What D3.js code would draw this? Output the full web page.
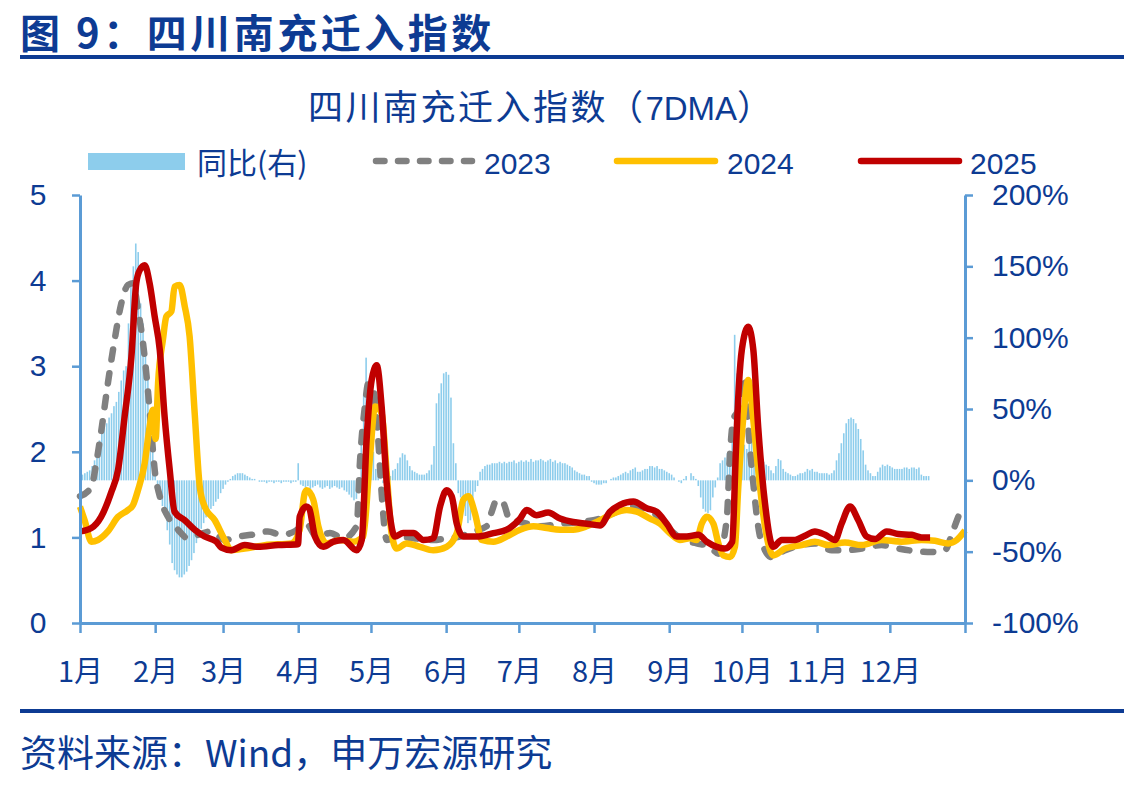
<!DOCTYPE html>
<html><head><meta charset="utf-8">
<script src="https://cdn.jsdelivr.net/npm/d3@7"></script>
<style>
html,body{margin:0;padding:0;background:#fff;}
svg{display:block;}
</style></head>
<body>
<svg id="c" width="1124" height="787"></svg>
<script>
// ---- data (day of year, value) ----
const monthLabels = ["1月","2月","3月","4月","5月","6月","7月","8月","9月","10月","11月","12月"];
const monthStarts = [0,31,59,90,120,151,181,212,243,273,304,334,365];
const leftTicks = [0,1,2,3,4,5];
const rightTicks = [-100,-50,0,50,100,150,200];
const seriesNames = ["同比(右)","2023","2024","2025"];

const s2023 = [[0,1.48],[4.7,1.59],[6.7,1.87],[8.8,2.25],[11.5,2.80],[14.3,3.31],[17,3.73],[19.8,3.95],[21.9,3.97],[23.9,3.66],[26,3.27],[28,2.72],[29.4,2.25],[30.8,1.79],[32.9,1.48],[36.3,1.24],[40.4,1.09],[44.5,0.99],[48.7,1.03],[54.2,1.07],[59.7,0.97],[65.2,1.01],[70.7,1.03],[77.5,1.07],[83,1.03],[88.5,1.07],[93.3,1.16],[97.6,1.01],[103.1,1.05],[108.6,0.99],[114.1,1.13],[115.5,1.90],[117.5,2.53],[118.9,2.80],[121,2.72],[123,2.14],[124.4,1.52],[126.5,0.97],[130.6,1.01],[137.5,0.99],[145.7,0.97],[151.2,0.99],[156.7,1.01],[162.2,1.07],[167.7,1.13],[169.8,1.30],[171.9,1.44],[174.6,1.40],[177.3,1.20],[181.5,1.18],[189.7,1.13],[198,1.16],[206.2,1.18],[214.5,1.22],[221.3,1.30],[226.8,1.37],[232.3,1.34],[237.8,1.26],[243.3,1.09],[248.8,0.97],[254.3,0.93],[259.8,0.89],[263.3,0.81],[266.7,1.20],[268.1,1.98],[269.4,2.37],[271.5,2.49],[274.3,2.88],[275.6,2.29],[277.7,1.63],[279.7,1.13],[282.5,0.85],[285.3,0.77],[290.8,0.85],[297.6,0.91],[303.1,0.93],[310,0.85],[315.5,0.85],[322.4,0.87],[330.6,0.91],[337.5,0.87],[344.4,0.84],[351.3,0.83],[356.7,0.85],[360.2,1.09],[363.6,1.32],[365,1.36]];

const s2024 = [[0,1.36],[1.9,1.20],[4.7,0.95],[7.4,0.97],[11.5,1.07],[15.7,1.24],[19.8,1.32],[21.9,1.38],[23.9,1.55],[26.7,1.87],[28.7,2.29],[30.1,2.49],[31.2,2.15],[32.2,2.80],[34.2,3.31],[35.6,3.58],[37.7,3.64],[39,3.93],[41.1,3.95],[43.2,3.70],[45.2,3.35],[47.3,2.45],[49.4,1.59],[51.4,1.36],[55.6,1.20],[59.7,0.97],[62.4,0.85],[67.9,0.87],[76.2,0.91],[87.2,0.93],[90.6,1.09],[92.7,1.52],[93.5,1.55],[96.2,1.44],[98.3,1.13],[101.7,0.93],[107.2,0.97],[112.7,0.95],[116.8,1.01],[119.6,1.94],[121.7,2.53],[124.4,2.45],[126.5,1.75],[128.5,1.05],[130.6,0.87],[134.7,0.93],[140.2,0.89],[145.7,0.85],[151.2,0.89],[155.4,1.05],[158.1,1.44],[160.2,1.48],[162.9,1.28],[165.7,0.97],[170.5,0.95],[176,1.01],[181.5,1.09],[187,1.13],[192.5,1.11],[198,1.09],[203.4,1.09],[209,1.13],[214.5,1.20],[220,1.28],[225.5,1.32],[229.6,1.30],[235.1,1.22],[239.2,1.16],[243.3,1.05],[247.4,0.97],[251.6,0.99],[254.3,0.97],[256.4,1.16],[258.5,1.24],[261.2,1.16],[263.3,0.93],[265.3,0.79],[268.1,0.77],[270.1,0.89],[271.5,1.59],[273.6,2.41],[275.6,2.84],[277.7,2.37],[279.7,1.79],[282.5,1.13],[285.9,0.79],[290.8,0.87],[297.6,0.91],[303.1,0.95],[308.6,0.91],[315.5,0.94],[322.4,0.91],[330.6,0.97],[338.9,0.95],[347.1,0.97],[352.6,0.96],[358.1,0.93],[361.6,0.97],[365,1.08]];

const s2025 = [[0,1.07],[4.7,1.11],[8.7,1.24],[12.8,1.52],[15.7,1.79],[18.4,2.41],[21.2,3.11],[23.2,3.97],[24.6,4.12],[26.7,4.18],[28.7,3.97],[30.8,3.58],[32.9,3.19],[34.9,2.41],[37,1.79],[39,1.30],[43.2,1.20],[47.3,1.09],[51.4,1.01],[56.2,0.95],[58.3,0.88],[62.4,0.85],[67.9,0.91],[73.4,0.89],[81.7,0.91],[89.9,0.92],[90.6,1.24],[93.3,1.36],[94.5,1.34],[96.9,1.01],[100.3,0.89],[104.5,0.95],[108.6,0.97],[114.1,0.85],[116.2,0.97],[118.2,2.14],[120.3,2.84],[122.4,3.01],[124.4,2.53],[126.5,1.63],[129.9,1.01],[133.3,1.05],[137.5,1.05],[141.6,0.97],[145.7,0.99],[148.5,1.36],[151.2,1.55],[153.3,1.48],[155.4,1.16],[158.1,1.01],[163.6,1.01],[170.5,1.05],[176,1.09],[181.5,1.22],[184.2,1.32],[188.3,1.26],[193.1,1.29],[198,1.22],[203.4,1.18],[209,1.16],[214.5,1.14],[218.6,1.30],[222.7,1.38],[228.2,1.42],[233.7,1.34],[237.8,1.30],[242,1.16],[246.1,1.01],[250.2,1.01],[255,1.03],[258.5,0.95],[262.6,0.89],[266,0.87],[269,0.95],[270.5,2.0],[271.8,2.8],[273,3.2],[275.6,3.46],[277.7,3.19],[279.7,2.29],[282.5,1.40],[285.9,0.89],[289.4,0.97],[294.9,0.97],[299,1.02],[303.1,1.07],[307.3,1.03],[311.4,0.97],[314.1,1.16],[317.6,1.36],[321,1.20],[324.4,1.01],[327.9,0.98],[332.7,1.07],[337.5,1.04],[343,1.03],[347.1,1.00],[350.6,1.00]];

// 同比 (%), one value per day starting Jan 1
const yoy = [
2,4,5,6,7,10,14,23,28,33,
37,40,44,47,52,55,62,70,77,80,
110,140,150,166,160,124,110,90,72,47,
23,8,-5,-12,-18,-23,-35,-45,-58,-63,
-66,-68,-68,-66,-64,-60,-56,-51,-44,-38,
-34,-30,-26,-23,-20,-18,-15,-13,-9,-6,
-3,-1,1,3,4,5,5,5,4,3,
2,1,1,0,-1,-1,-1,-2,-1,-1,
-2,-1,-1,-2,-1,-1,-1,-2,-1,-1,
12,-3,-4,-5,-4,-6,-5,-4,-3,-5,
-6,-5,-4,-6,-5,-4,-5,-6,-5,-7,
-8,-10,-12,-14,-13,-8,30,60,86,70,
40,20,8,3,0,-2,-2,0,3,7,
8,12,16,19,18,14,10,7,6,5,
4,4,4,5,7,11,24,54,61,68,
75,76,74,58,26,12,-9,-12,-19,-25,
-30,-28,-14,-8,-4,6,8,10,11,11,
12,12,12,13,12,13,12,13,13,14,
12,13,14,13,14,13,15,13,14,14,
15,14,13,14,15,13,14,12,13,12,
12,11,10,9,7,6,5,4,4,3,
3,-1,-2,-3,-3,-3,-2,-2,0,1,
2,2,3,4,5,6,5,7,8,9,
6,6,7,8,8,10,10,9,10,8,
8,7,6,5,4,2,0,-1,-2,1,
3,0,5,3,1,-4,-12,-20,-22,-23,
-21,-12,-5,2,12,14,16,19,20,35,
102,75,45,30,25,22,28,30,21,17,
14,12,13,11,10,7,5,10,15,14,
8,6,5,4,3,3,4,5,5,6,
8,7,8,6,6,5,5,5,5,4,
5,7,14,19,26,33,40,43,44,43,
40,36,29,21,11,7,5,3,3,6,
9,11,10,11,10,9,8,8,8,8,
9,9,8,9,9,8,9,4,3,3,
3];

// ---- drawing ----
const TXT = "#0D3B93", AX = "#5B9BD5";
const FONT = "'Liberation Sans', Arial, 'Noto Sans CJK SC', sans-serif";
const CJK = "'Noto Sans CJK SC', 'Liberation Sans', sans-serif";
const svg = d3.select("#c");

const x = d3.scaleLinear().domain([0,365]).range([80,965]);
const yL = d3.scaleLinear().domain([0,5]).range([623,195]);
const yR = d3.scaleLinear().domain([-100,200]).range([623,195]);

// header
svg.append("text").attr("x",20).attr("y",48).attr("font-family",CJK).attr("font-weight","bold")
  .attr("font-size",40).attr("letter-spacing",3.5).attr("fill",TXT).text("图 9：四川南充迁入指数");
svg.append("rect").attr("x",20).attr("y",55).attr("width",1104).attr("height",4).attr("fill",TXT);
svg.append("rect").attr("x",20).attr("y",709).attr("width",1104).attr("height",4).attr("fill",TXT);
svg.append("text").attr("x",20).attr("y",767).attr("font-family",CJK)
  .attr("font-size",37).attr("fill",TXT).text("资料来源：Wind，申万宏源研究");

// chart title
const ct = svg.append("text").attr("x",540).attr("y",120).attr("text-anchor","middle").attr("font-family",CJK)
  .attr("font-size",35).attr("fill",TXT);
ct.append("tspan").attr("letter-spacing",2.5).text("四川南充迁入指数（");
ct.append("tspan").attr("font-family",FONT).attr("font-size",33).text("7DMA");
ct.append("tspan").text("）");

// bars
svg.append("g").selectAll("rect").data(yoy).join("rect")
  .attr("x",(d,i)=>x(i)-0.8).attr("width",1.6)
  .attr("y",d=>Math.min(yR(d),yR(0))).attr("height",d=>Math.abs(yR(d)-yR(0)))
  .attr("fill","#8DCDEC");

// lines
const line = d3.line().x(d=>x(d[0])).y(d=>yL(d[1])).curve(d3.curveMonotoneX);
svg.append("path").datum(s2023).attr("d",line).attr("fill","none").attr("stroke","#808080")
  .attr("stroke-width",6.5).attr("stroke-dasharray","10,14").attr("stroke-linecap","round");
svg.append("path").datum(s2024).attr("d",line).attr("fill","none").attr("stroke","#FFC000")
  .attr("stroke-width",6.5).attr("stroke-linejoin","round");
svg.append("path").datum(s2025).attr("d",line).attr("fill","none").attr("stroke","#C00000")
  .attr("stroke-width",6.5).attr("stroke-linejoin","round");

// axes
function styleAxis(g){
  g.selectAll(".domain").attr("stroke",AX).attr("stroke-width",3);
  g.selectAll(".tick line").attr("stroke",AX).attr("stroke-width",2.5);
  g.selectAll(".tick text").attr("fill",TXT).attr("font-family",FONT).attr("font-size",30);
}
const gL = svg.append("g").attr("transform","translate(80,0)")
  .call(d3.axisLeft(yL).tickValues(leftTicks).tickSize(8).tickSizeOuter(0).tickPadding(27).tickFormat(d3.format("d")));
styleAxis(gL);
gL.selectAll(".tick text").attr("text-anchor","middle").attr("x",-42);

const gR = svg.append("g").attr("transform","translate(965,0)")
  .call(d3.axisRight(yR).tickValues(rightTicks).tickSize(8).tickSizeOuter(0).tickPadding(25).tickFormat(d=>d+"%"));
styleAxis(gR);
gR.selectAll(".tick text").attr("x",992-965);

const gX = svg.append("g").attr("transform","translate(0,623)")
  .call(d3.axisBottom(x).tickValues(monthStarts).tickSize(10).tickSizeOuter(0)
    .tickFormat((d,i)=> i<monthLabels.length ? monthLabels[i] : ""));
styleAxis(gX);
gX.selectAll(".tick text").attr("font-family",CJK).attr("y",38).attr("dy","0.71em").attr("font-size",29);

// legend
const lg = svg.append("g").attr("font-family",CJK).attr("font-size",30).attr("fill",TXT);
lg.append("rect").attr("x",88).attr("y",153).attr("width",97).attr("height",17).attr("fill","#8DCDEC");
lg.append("text").attr("x",197).attr("y",174).text(seriesNames[0]);
lg.append("line").attr("x1",376).attr("x2",472).attr("y1",161).attr("y2",161).attr("stroke","#808080")
  .attr("stroke-width",6.5).attr("stroke-dasharray","8.5,13.5").attr("stroke-linecap","round");
lg.append("text").attr("x",484).attr("y",174).attr("font-family",FONT).text(seriesNames[1]);
lg.append("line").attr("x1",617).attr("x2",715).attr("y1",161).attr("y2",161).attr("stroke","#FFC000")
  .attr("stroke-width",6.5).attr("stroke-linecap","round");
lg.append("text").attr("x",727).attr("y",174).attr("font-family",FONT).text(seriesNames[2]);
lg.append("line").attr("x1",861).attr("x2",959).attr("y1",161).attr("y2",161).attr("stroke","#C00000")
  .attr("stroke-width",6.5).attr("stroke-linecap","round");
lg.append("text").attr("x",970).attr("y",174).attr("font-family",FONT).text(seriesNames[3]);
</script>
</body></html>
